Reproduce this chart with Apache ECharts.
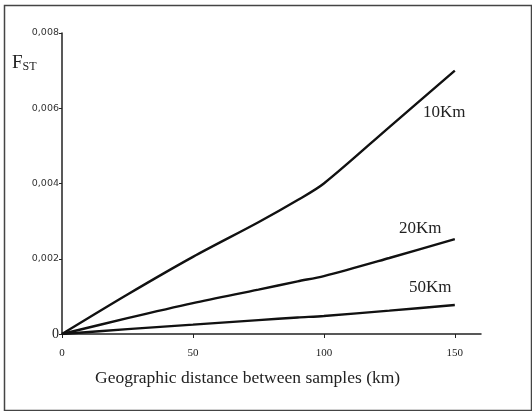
<!DOCTYPE html>
<html><head><meta charset="utf-8">
<script src="https://cdn.jsdelivr.net/npm/echarts@6/dist/echarts.min.js"></script>
<style>html,body{margin:0;padding:0;background:#fff}#c{width:532px;height:411px}</style>
</head><body><div id="c"></div>
<script>
const distances = [0, 25, 50, 75, 90, 100, 125, 150];
const fst10 = [0, 0.00105, 0.00205, 0.00297, 0.00356, 0.0040, 0.0055, 0.0070];
const fst20 = [0, 0.00042, 0.00082, 0.00118, 0.00140, 0.00154, 0.00202, 0.00252];
const fst50 = [0, 0.00013, 0.00025, 0.00037, 0.00044, 0.00048, 0.00062, 0.00077];
const xTicks = [0, 50, 100, 150];
const yTicks = ['0', '0,002', '0,004', '0,006', '0,008'];
const seriesNames = ['10Km', '20Km', '50Km'];
const xTitle = 'Geographic distance between samples (km)';

const toPairs = arr => distances.map((d, i) => [d, arr[i]]);
const chart = echarts.init(document.getElementById('c'));
const serif = '"Liberation Serif", "DejaVu Serif", serif';
const mk = (name, arr) => ({
  name, type: 'line', data: toPairs(arr), smooth: 0.3, symbol: 'none',
  lineStyle: {color: '#111', width: 2.4}
});
chart.setOption({
  animation: false,
  grid: {left: 62, right: 51, top: 33, bottom: 77},
  xAxis: {
    type: 'value', min: 0, max: 160, interval: 50,
    axisLine: {show: true, lineStyle: {color: '#222', width: 1.5}},
    axisTick: {show: true, length: 4, lineStyle: {color: '#222'}, customValues: xTicks},
    axisLabel: {color: '#222', fontFamily: serif, fontSize: 11, margin: 14, customValues: xTicks},
    splitLine: {show: false}
  },
  yAxis: {
    type: 'value', min: 0, max: 0.008, interval: 0.002,
    axisLine: {show: true, lineStyle: {color: '#222', width: 1.5}},
    axisTick: {show: true, length: 3, inside: false, lineStyle: {color: '#222'}},
    axisLabel: {color: '#222', margin: 3,
      formatter: v => { const i = Math.round(v / 0.002); return i === 0 ? '{z|0}' : '{t|' + yTicks[i] + '}'; },
      rich: {z: {fontFamily: serif, fontSize: 14, color: '#222'},
             t: {fontFamily: '"DejaVu Sans", sans-serif', fontSize: 9.5, color: '#333'}}},
    splitLine: {show: false}
  },
  series: [mk(seriesNames[0], fst10), mk(seriesNames[1], fst20), mk(seriesNames[2], fst50)],
  graphic: [
    {type: 'rect', left: 2, top: 3, shape: {width: 527, height: 405},
      style: {fill: 'none', stroke: '#444', lineWidth: 1.5}},
    {type: 'text', left: 12, top: 54, style: {
      text: '{f|F}{s|ST}', rich: {f: {fontFamily: serif, fontSize: 19, fill: '#222'},
      s: {fontFamily: serif, fontSize: 12, fill: '#222', padding: [6, 0, 0, 0]}}}},
    {type: 'text', left: 423, top: 104, style: {text: seriesNames[0], font: '17px ' + serif, fill: '#222'}},
    {type: 'text', left: 399, top: 220, style: {text: seriesNames[1], font: '17px ' + serif, fill: '#222'}},
    {type: 'text', left: 409, top: 279, style: {text: seriesNames[2], font: '17px ' + serif, fill: '#222'}},
    {type: 'text', left: 95, top: 369, style: {text: xTitle, font: '17.5px ' + serif, fill: '#222'}}
  ]
});
</script></body></html>
